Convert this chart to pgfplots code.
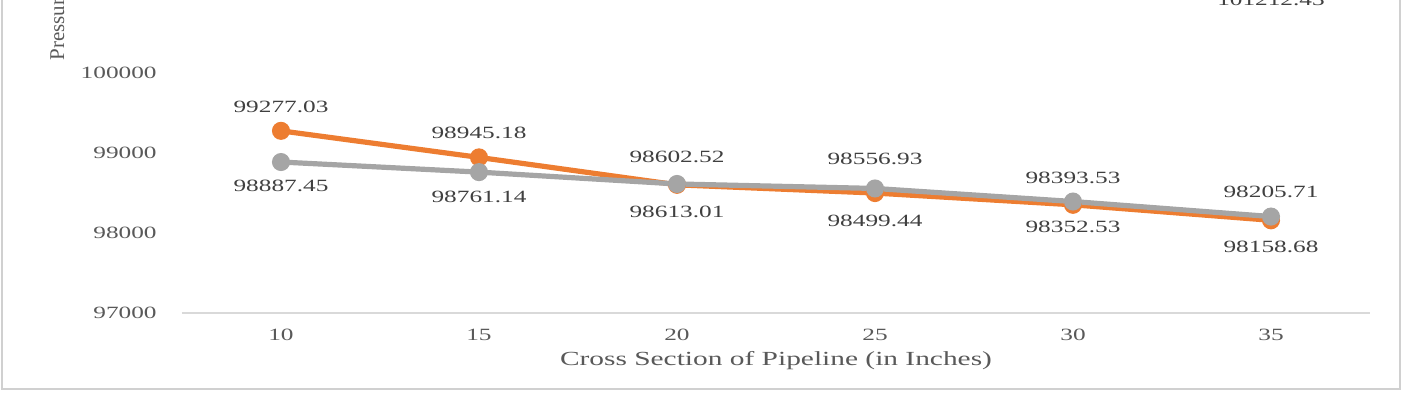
\documentclass[border=0pt]{standalone}
\usepackage{fontspec}
\setmainfont{Liberation Serif}[FakeStretch=1.47]
\newfontfamily\plainserif{Liberation Serif}
\usepackage{pgfplots}
\pgfplotsset{compat=1.18}
\usepackage{pgfplotstable}
\definecolor{sblue}{HTML}{5B9BD5}
\definecolor{sorange}{HTML}{ED7D31}
\definecolor{sgray}{HTML}{A5A5A5}
\definecolor{tickgray}{HTML}{595959}
\definecolor{labgray}{HTML}{404040}
\definecolor{axisgray}{HTML}{D9D9D9}
\definecolor{framegray}{HTML}{D0D0D0}

\pgfplotstableread{
x y off
35 101212.43 -12
}\blueser
\pgfplotstableread{
x y off
10 99277.03 12
15 98945.18 12
20 98602.52 14
25 98499.44 -14
30 98352.53 -11
35 98158.68 -13.5
}\orangeser
\pgfplotstableread{
x y off
10 98887.45 -12
15 98761.14 -12.5
20 98613.01 -14
25 98556.93 14.75
30 98393.53 11.75
35 98205.71 12.25
}\grayser

\begin{document}
\begin{tikzpicture}
\begin{axis}[
  at={(0,0)}, anchor=south west,
  scale only axis, width=594pt, height=180pt,
  xmin=7.5, xmax=37.5, ymin=97000, ymax=101500,
  xtick={10,15,20,25,30,35},
  ytick={97000,98000,99000,100000},
  scaled y ticks=false, scaled x ticks=false,
  axis x line=bottom, axis y line=left,
  x axis line style={draw=axisgray, line width=1pt, -},
  y axis line style={draw=none, -},
  tick style={draw=none}, major tick length=0pt,
  /pgf/number format/assume math mode=true,
  /pgf/number format/1000 sep={},
  yticklabel={\pgfmathprintnumber[fixed,precision=0,1000 sep={}]{\tick}},
  xticklabel style={font=\fontsize{8.6}{10}\selectfont, color=tickgray, anchor=center, inner sep=0pt, yshift=-11pt},
  yticklabel style={font=\fontsize{8.6}{10}\selectfont, color=tickgray, anchor=east, inner sep=0pt, xshift=-12.5pt},
  xlabel={Cross Section of Pipeline (in Inches)},
  xlabel style={font=\fontsize{10}{12}\selectfont, color=tickgray, at={(axis description cs:0.5,0)}, anchor=center, inner sep=0pt, yshift=-24pt},
  clip=false,
  point meta=explicit symbolic,
  nodes near coords={\pgfplotspointmeta},
  visualization depends on={\thisrow{off}\as\off},
  nodes near coords style={font=\fontsize{8.6}{10}\selectfont, color=labgray, anchor=center, inner sep=0pt, yshift=\off},
]
\addplot[color=sblue, line width=2.6pt, mark=*, mark size=3.2pt] table[x=x, y=y, meta=y] {\blueser};
\addplot[color=sorange, line width=2.6pt, mark=*, mark size=3.2pt] table[x=x, y=y, meta=y] {\orangeser};
\addplot[color=sgray, line width=2.6pt, mark=*, mark size=3.2pt] table[x=x, y=y, meta=y] {\grayser};
\node[rotate=90, anchor=west, inner sep=0pt, font=\plainserif\fontsize{10.5}{12}\selectfont, color=tickgray] at (rel axis cs:-0.1035,0.7) {Pressure (in Pascal)};
\end{axis}
\draw[framegray, line width=1pt] (-89.75pt,200pt) -- (-89.75pt,-38pt) -- (609pt,-38pt) -- (609pt,200pt);
\pgfresetboundingbox
\path[use as bounding box] (-91pt,-40pt) rectangle (611.5pt,156.5pt);
\end{tikzpicture}
\end{document}
